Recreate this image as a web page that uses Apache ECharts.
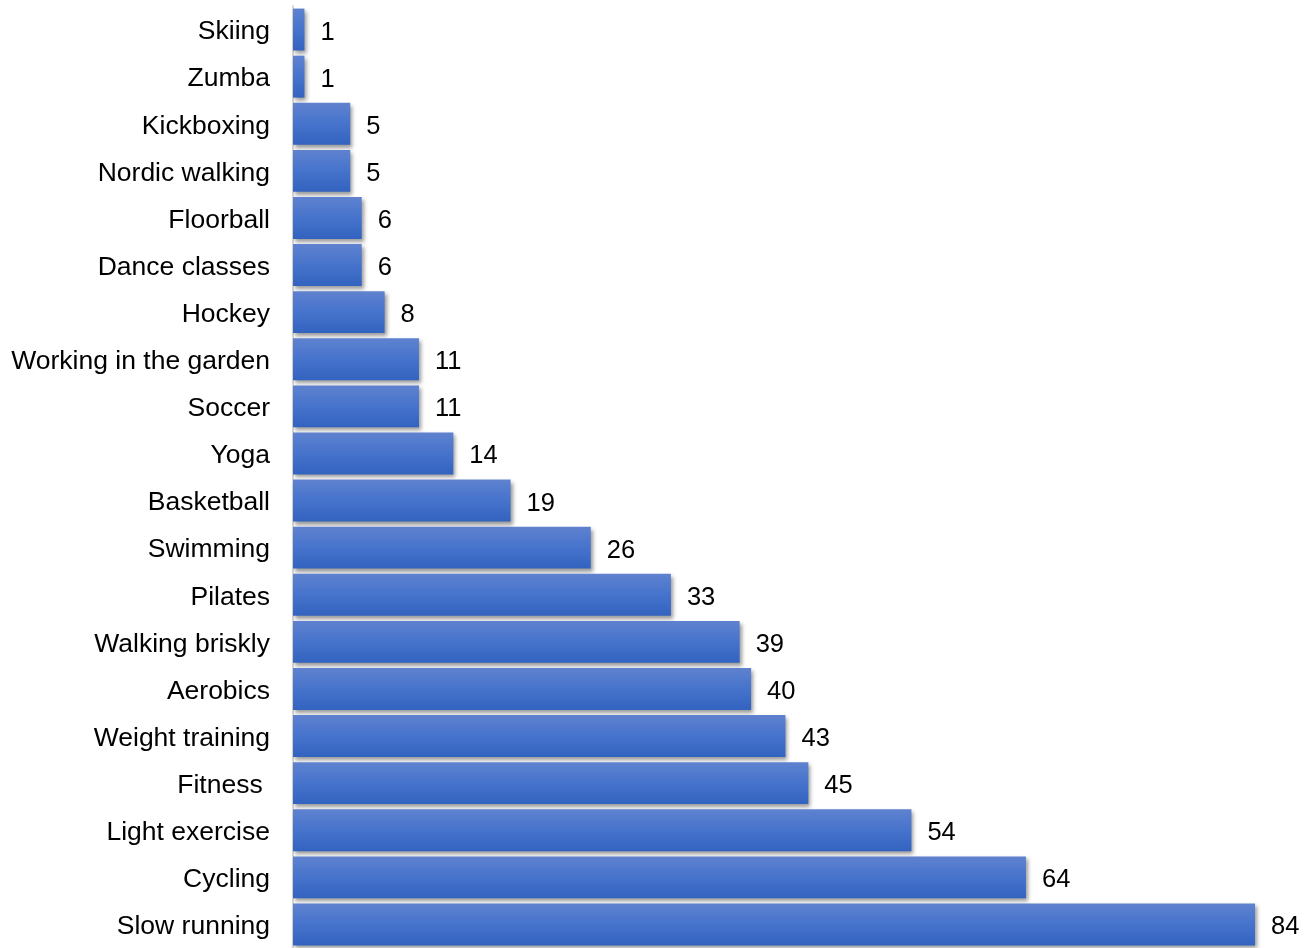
<!DOCTYPE html>
<html>
<head>
<meta charset="utf-8">
<script src="https://cdn.jsdelivr.net/npm/echarts@6/dist/echarts.min.js"></script>
<style>html,body{margin:0;padding:0;background:#fff;}#c{width:1315px;height:948px;}</style>
</head>
<body>
<div id="c"></div>
<script>
const categories = ["Skiing","Zumba","Kickboxing","Nordic walking","Floorball","Dance classes","Hockey","Working in the garden","Soccer","Yoga","Basketball","Swimming","Pilates","Walking briskly","Aerobics","Weight training","Fitness ","Light exercise","Cycling","Slow running"];
const values = [1,1,5,5,6,6,8,11,11,14,19,26,33,39,40,43,45,54,64,84];

const chart = echarts.init(document.getElementById('c'), null, {renderer:'canvas'});
chart.setOption({
  animation:false,
  backgroundColor:'#ffffff',
  grid:{left:293, right:60, top:6, height:944, containLabel:false},
  xAxis:{type:'value', min:0, max:84, show:false},
  yAxis:{
    type:'category', inverse:true, data:categories,
    axisLine:{show:true, lineStyle:{color:'#d9d9d9', width:2}},
    axisTick:{show:false},
    axisLabel:{
      margin:23,
      formatter:function(v){ return '{a|' + v + '}'; },
      rich:{a:{color:'#000', fontFamily:'Liberation Sans, Arial, sans-serif', fontSize:26.5, padding:[5,0,0,0]}}
    }
  },
  series:[{
    type:'bar', data:values, barCategoryGap:'11%',
    itemStyle:{
      color:new echarts.graphic.LinearGradient(0,0,0,1,[{offset:0,color:'#5f82cf'},{offset:0.5,color:'#4673cc'},{offset:1,color:'#3263bf'}]),
      shadowColor:'rgba(0,0,0,0.4)', shadowBlur:4, shadowOffsetX:2, shadowOffsetY:3
    },
    label:{show:true, position:'right', distance:16, offset:[0,3], color:'#000', fontFamily:'Liberation Sans, Arial, sans-serif', fontSize:25.5}
  }]
});
</script>
</body>
</html>
